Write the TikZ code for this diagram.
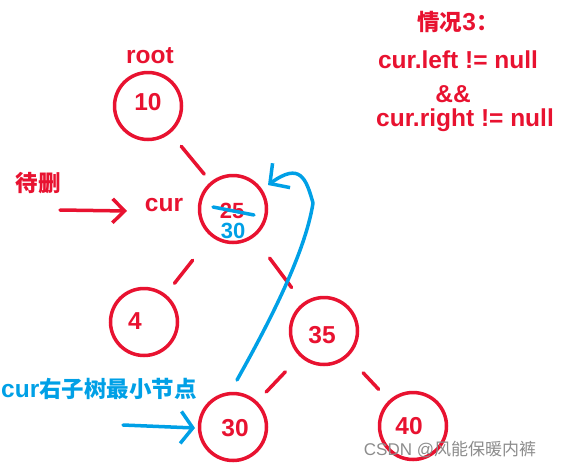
\documentclass[tikz,border=0pt]{standalone}
\usepackage{fontspec}
\setmainfont{Liberation Sans}
\newfontfamily\cjk{Noto Sans CJK SC}
\usetikzlibrary{arrows.meta}
\definecolor{myred}{RGB}{232,18,48}
\definecolor{myblue}{RGB}{0,160,230}
\definecolor{wm}{RGB}{140,140,140}
\newcommand{\zh}[1]{{\cjk\bfseries\fontsize{22.5}{22.5}\selectfont #1}}
\tikzset{
  tnode/.style={circle,draw=myred,line width=3.5pt,minimum size=67pt,inner sep=0pt},
  redtxt/.style={text=myred,font=\bfseries\fontsize{24.5}{24.5}\selectfont,inner sep=0pt,anchor=base},
  bluetxt/.style={text=myblue,font=\bfseries\fontsize{24.5}{24.5}\selectfont,inner sep=0pt,anchor=base},
  smalltxt/.style={font=\bfseries\fontsize{22}{22}\selectfont},
  edge/.style={draw=myred,line width=3.5pt,line cap=round},
  rarrow/.style={line width=3.5pt,line cap=round},
}
\begin{document}
\begin{tikzpicture}[x=1pt,y=-1pt]
\useasboundingbox (0,0) rectangle (561,466);
% tree nodes
\node[tnode] (n10) at (148,106) {};
\node[tnode] (n25) at (233,209) {};
\node[tnode] (n4) at (144,322) {};
\node[tnode] (n35) at (324,331) {};
\node[tnode] (n30) at (233,427) {};
\node[tnode] (n40) at (413,426) {};
% edges
\draw[edge,shorten <=17pt,shorten >=10pt] (n10) -- (n25);
\draw[edge,shorten <=30pt,shorten >=14pt] (n25) -- (n4);
\draw[edge,shorten <=26pt,shorten >=19pt] (n25) -- (n35);
\draw[edge,shorten <=21pt,shorten >=13pt] (n35) -- (n30);
\draw[edge,shorten <=22pt,shorten >=15pt] (n35) -- (n40);
% node values
\node[redtxt] (v10) at (148,110) {10};
\node[redtxt,smalltxt] (v25) at (232,218) {25};
\node[bluetxt,smalltxt] (v30b) at (233,238) {30};
\node[redtxt] (v4) at (135,329) {4};
\node[redtxt] (v35) at (322,343) {35};
\node[redtxt] (v30) at (235,436) {30};
\node[redtxt] (v40) at (409,434) {40};
% strike-through on 25
\coordinate (s1) at (213,207);
\coordinate (s2) at (254,215);
\draw[myblue,line width=3.5pt,line cap=round] (s1) -- (s2);
% labels
\node[redtxt] (root) at (150,63) {root};
\node[redtxt] (del) at (38,191) {\zh{待删}};
\node[redtxt] (cur) at (164,211) {cur};
\coordinate (ra1) at (60,210);
\coordinate (ra2) at (127,211);
\draw[rarrow,myred,-{Straight Barb[length=12pt,width=24pt,line width=3.5pt]}] (ra1) -- (ra2);
\node[bluetxt] (min) at (99,397) {cur\zh{右子树最小节点}};
\coordinate (ba1) at (123,425);
\coordinate (ba2) at (195,428);
\draw[rarrow,myblue,-{Straight Barb[length=12pt,width=32pt,line width=3.5pt]}] (ba1) -- (ba2);
% blue curved arrow
\coordinate (c0) at (237,380);
\coordinate (c1) at (313,203);
\coordinate (c2) at (268,185);
\draw[myblue,line width=3.5pt,line cap=round,line join=round,-{Straight Barb[length=14pt,width=30pt,line width=3.5pt]}]
  (c0) .. controls (265,330) and (305,255) .. (c1) .. controls (306,178) and (300,162) .. (c2);
% condition text
\node[redtxt] (t1) at (458,30) {\zh{情况}3\zh{：}};
\node[redtxt] (t2) at (458,68) {cur.left != null};
\node[redtxt] (t3) at (453,102) {\&\&};
\node[redtxt] (t4) at (465,126) {cur.right != null};
% watermark
\node[text=wm,font=\fontsize{17}{17}\selectfont,inner sep=0pt,anchor=base] (wmk) at (450,455) {CSDN @{\cjk\fontsize{17}{17}\selectfont 风能保暖内裤}};
\end{tikzpicture}
\end{document}
